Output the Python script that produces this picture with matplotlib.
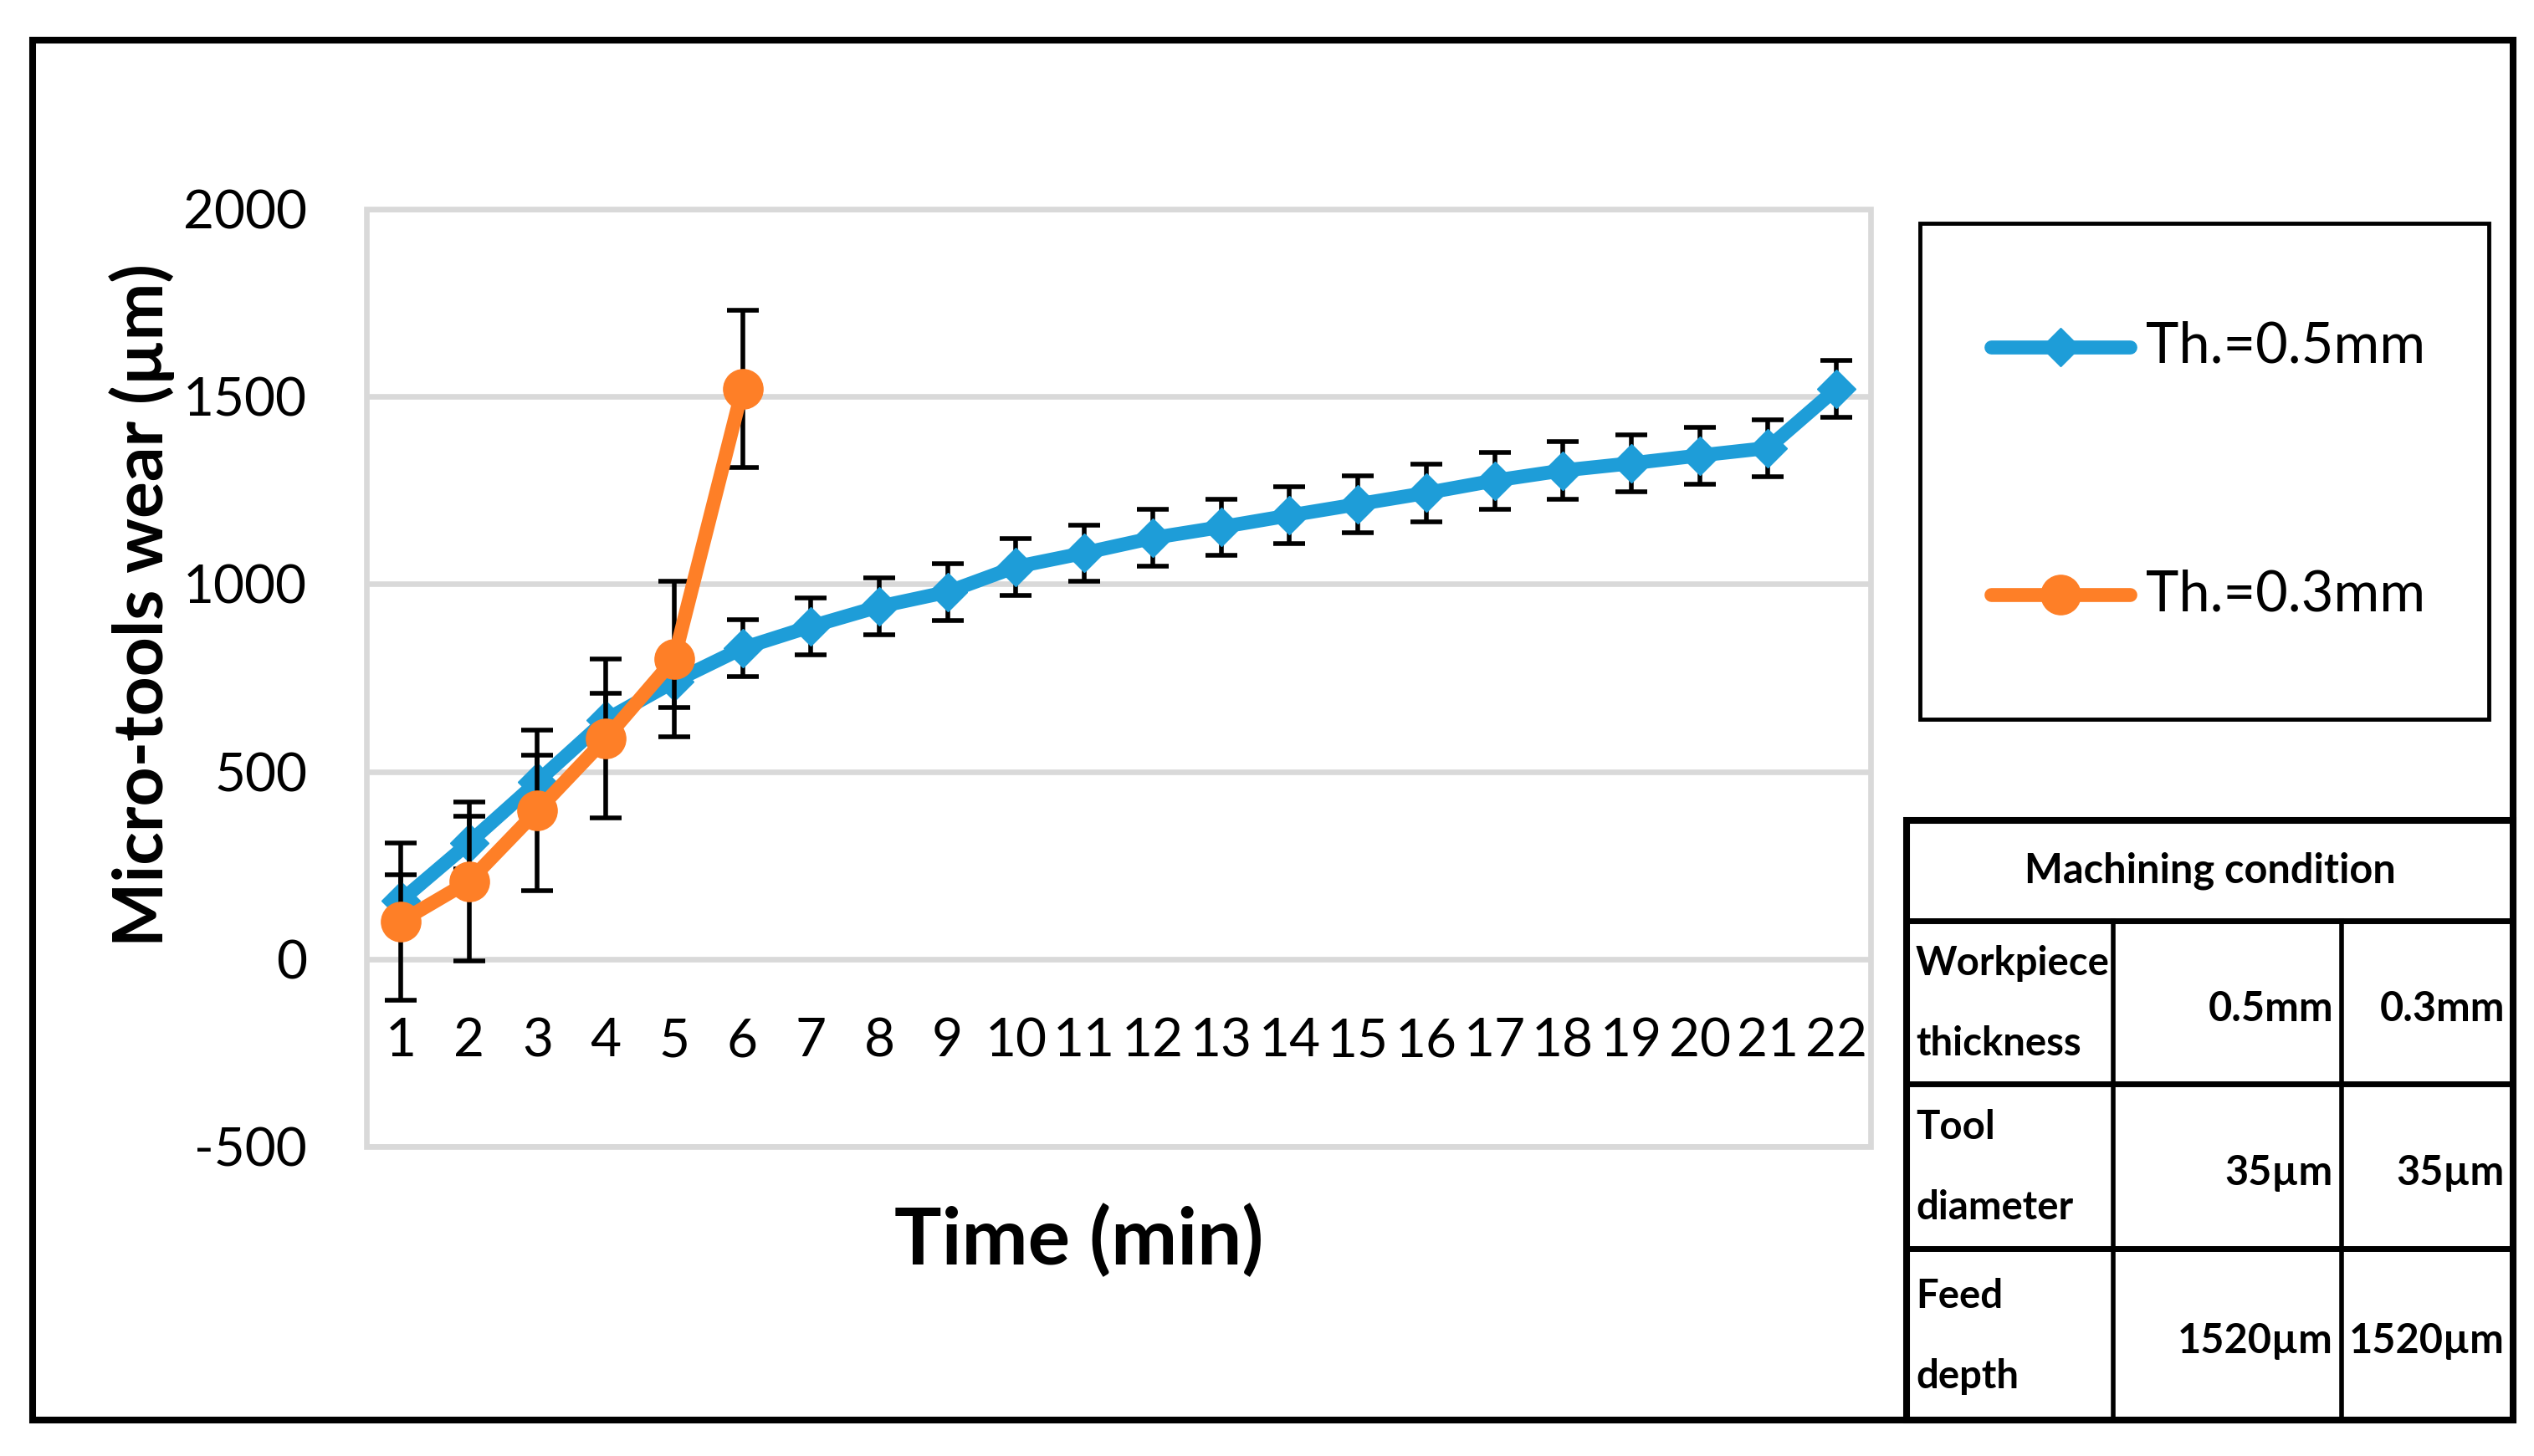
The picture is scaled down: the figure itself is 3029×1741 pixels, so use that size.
import matplotlib.pyplot as plt
from matplotlib.patches import Rectangle
from matplotlib.lines import Line2D

plt.rcParams['font.family'] = ['Lato', 'DejaVu Sans']
plt.rcParams['axes.unicode_minus'] = False

# data
time_05 = list(range(1, 23))
wear_05 = [155, 310, 473, 638, 740, 829, 887, 940, 979, 1046, 1083,
           1123, 1152, 1183, 1213, 1243, 1276, 1303, 1322, 1343, 1363, 1521]
err_05 = [70, 70, 70, 70, 70, 75, 76, 76, 76, 76, 75,
          76, 75, 76, 76, 76, 76, 76, 76, 76, 76, 76]
time_03 = [1, 2, 3, 4, 5, 6]
wear_03 = [100, 207, 396, 588, 800, 1520]
err_03 = [210, 212, 214, 212, 208, 210]
yticks = [-500, 0, 500, 1000, 1500, 2000]
labels = ['Th.=0.5mm', 'Th.=0.3mm']
table_head = 'Machining condition'
table_rows = [(['Workpiece', 'thickness'], '0.5mm', '0.3mm'),
              (['Tool', 'diameter'], '35µm', '35µm'),
              (['Feed', 'depth'], '1520µm', '1520µm')]

blue = '#1E9DD8'
orange = '#FE7F27'
grid_c = '#D9D9D9'

W, H = 3029, 1741
fig = plt.figure(figsize=(W / 100, H / 100), dpi=100)


def fx(px):
    return px / W


def fy(py):
    return 1 - py / H


ax = fig.add_axes([fx(438), fy(1371), fx(2236) - fx(438), fy(250) - fy(1371)])

ax.errorbar(time_05, wear_05, yerr=err_05, fmt='none', ecolor='black',
            elinewidth=4, capsize=14, capthick=4, zorder=2)
ax.plot(time_05, wear_05, color=blue, lw=12, marker='D', ms=23,
        mec=blue, solid_capstyle='round', solid_joinstyle='round', zorder=3)
ax.errorbar(time_03, wear_03, yerr=err_03, fmt='none', ecolor='black',
            elinewidth=4, capsize=14, capthick=4, zorder=4)
ax.plot(time_03, wear_03, color=orange, lw=12, marker='o', ms=34,
        mec=orange, solid_capstyle='round', solid_joinstyle='round', zorder=5)

ax.set_xlim(0.5, 22.5)
ax.set_ylim(-500, 2000)
ax.set_yticks(yticks)
ax.set_xticks(time_05)
ax.set_xticklabels([str(t) for t in time_05])
ax.yaxis.grid(True, color=grid_c, lw=4.8)
ax.set_axisbelow(True)
for s in ax.spines.values():
    s.set_visible(False)
ax.spines['bottom'].set_position(('data', 0))
ax.add_patch(Rectangle((0, 0), 1, 1, transform=ax.transAxes, fill=False,
                       ec=grid_c, lw=4.8, clip_on=False, zorder=0.5))
ax.tick_params(axis='both', length=0, labelsize=46)
ax.tick_params(axis='y', pad=51)
ax.tick_params(axis='x', pad=50)

fig.text(fx(1290), fy(1484), 'Time (min)', ha='center', va='center',
         fontsize=68, fontweight='bold')
fig.text(fx(170), fy(724), 'Micro-tools wear (µm)', rotation=90,
         ha='center', va='center', fontsize=59, fontweight='bold')

# outer border
fig.patches.append(Rectangle((fx(39), fy(1698)), fx(3004) - fx(39), fy(48) - fy(1698),
                             transform=fig.transFigure, fill=False, ec='black', lw=5.8))

# legend box
fig.patches.append(Rectangle((fx(2295), fy(860)), fx(2975) - fx(2295), fy(267) - fy(860),
                             transform=fig.transFigure, fill=False, ec='black', lw=3.5))
for lab, col, mk, ms, yy in [(labels[0], blue, 'D', 23, 415), (labels[1], orange, 'o', 34, 711)]:
    fig.add_artist(Line2D([fx(2380), fx(2546)], [fy(yy), fy(yy)], transform=fig.transFigure,
                          color=col, lw=12, solid_capstyle='round'))
    fig.add_artist(Line2D([fx(2463)], [fy(yy)], transform=fig.transFigure,
                          color=col, marker=mk, ms=ms, mec=col))
    fig.text(fx(2565), fy(yy), lab, ha='left', va='center', fontsize=48)

# table
tx0, tx1 = 2279, 3004
c1, c2 = 2526, 2799
ty = [981, 1101, 1296, 1493, 1698]
fig.patches.append(Rectangle((fx(tx0), fy(ty[-1])), fx(tx1) - fx(tx0), fy(ty[0]) - fy(ty[-1]),
                             transform=fig.transFigure, fc='white', ec='black', lw=5.8))
for yy in ty[1:-1]:
    fig.add_artist(Line2D([fx(tx0), fx(tx1)], [fy(yy), fy(yy)], transform=fig.transFigure,
                          color='black', lw=5))
for xx in (c1, c2):
    fig.add_artist(Line2D([fx(xx), fx(xx)], [fy(ty[1]), fy(ty[-1])], transform=fig.transFigure,
                          color='black', lw=4))
fig.text(fx((tx0 + tx1) / 2), fy((ty[0] + ty[1]) / 2), table_head, ha='center', va='center',
         fontsize=35, fontweight='bold')
for i, (lines, v1, v2) in enumerate(table_rows):
    cy = (ty[i + 1] + ty[i + 2]) / 2
    fig.text(fx(2290), fy(cy - 46), lines[0], ha='left', va='center', fontsize=34, fontweight='bold')
    fig.text(fx(2290), fy(cy + 50), lines[1], ha='left', va='center', fontsize=34, fontweight='bold')
    fig.text(fx(c2 - 10), fy(cy + 8), v1, ha='right', va='center', fontsize=35, fontweight='bold')
    fig.text(fx(tx1 - 10), fy(cy + 8), v2, ha='right', va='center', fontsize=35, fontweight='bold')

fig.savefig('out.png', dpi=100, facecolor='white')
